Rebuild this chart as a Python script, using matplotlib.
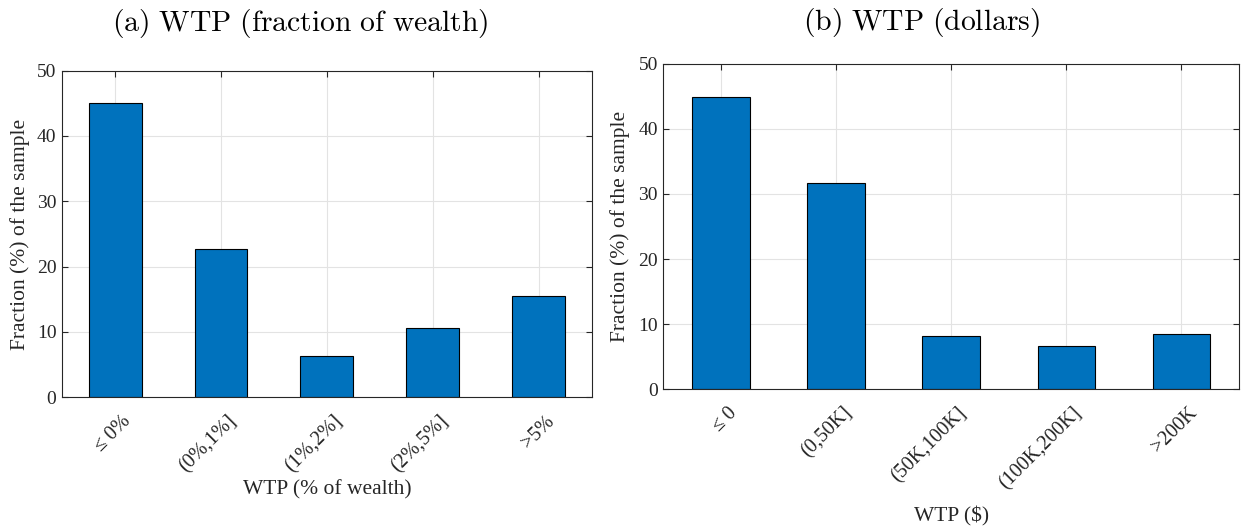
import matplotlib
matplotlib.use("Agg")
import matplotlib.pyplot as plt
import matplotlib.transforms as mtransforms
import numpy as np

# WTP as fraction of wealth
wealth_labels = ["≤ 0%", "(0%,1%]", "(1%,2%]", "(2%,5%]", ">5%"]
wealth_share = [45.0, 22.65, 6.3, 10.65, 15.45]

# WTP in dollars
dollar_labels = ["≤ 0", "(0,50K]", "(50K,100K]", "(100K,200K]", ">200K"]
dollar_share = [44.95, 31.7, 8.2, 6.65, 8.45]

plt.rcParams["font.family"] = ["Liberation Serif", "DejaVu Serif"]
plt.rcParams["mathtext.fontset"] = "cm"

BAR_COLOR = "#0072BD"
AX_COLOR = "#262626"


def style_axes(fig, ax, labels, xlabel, xlabel_y):
    x = np.arange(1, len(labels) + 1)
    ax.set_xlim(0.5, len(labels) + 0.5)
    ax.set_ylim(0, 50)
    ax.set_yticks([0, 10, 20, 30, 40, 50])
    ax.set_xticks(x)
    ax.set_xticklabels(labels, rotation=45, ha="right", va="center",
                       rotation_mode="anchor", fontsize=14.5, color=AX_COLOR)
    ax.tick_params(axis="both", direction="in", length=4, width=0.8,
                   colors=AX_COLOR, top=True, right=True)
    ax.tick_params(axis="y", labelsize=14, pad=4)
    ax.tick_params(axis="x", pad=14)
    # shift rotated labels so their ends sit right of the ticks
    shift = mtransforms.ScaledTranslation(13 / 100, -2 / 100, fig.dpi_scale_trans)
    for lab in ax.get_xticklabels():
        lab.set_transform(lab.get_transform() + shift)
    ax.grid(True, color="#e3e3e3", linewidth=0.8)
    ax.set_axisbelow(True)
    for s in ax.spines.values():
        s.set_color(AX_COLOR)
        s.set_linewidth(0.8)
    ax.set_ylabel("Fraction (%) of the sample", fontsize=15.5, color=AX_COLOR)
    ax.set_xlabel(xlabel, fontsize=15.5, color=AX_COLOR)
    ax.xaxis.set_label_coords(0.5, xlabel_y)


fig = plt.figure(figsize=(12.45, 5.31), dpi=100)

ax1 = fig.add_axes([0.0498, 0.2518, 0.4257, 0.6151])
ax1.bar(np.arange(1, 6), wealth_share, width=0.5, color=BAR_COLOR,
        edgecolor="black", linewidth=0.8)
style_axes(fig, ax1, wealth_labels, "WTP (% of wealth)", -0.252)
ax1.yaxis.set_label_coords(-0.060, 0.5)

ax2 = fig.add_axes([0.5328, 0.2674, 0.4624, 0.6121])
ax2.bar(np.arange(1, 6), dollar_share, width=0.5, color=BAR_COLOR,
        edgecolor="black", linewidth=0.8)
style_axes(fig, ax2, dollar_labels, "WTP ($)", -0.362)
ax2.yaxis.set_label_coords(-0.058, 0.5)

fig.text(300.5 / 1245, 1 - 23 / 531, r"$\mathrm{(a)\ WTP\ (fraction\ of\ wealth)}$",
         ha="center", va="center", fontsize=21.4)
fig.text(921.5 / 1245, 1 - 22.5 / 531, r"$\mathrm{(b)\ WTP\ (dollars)}$",
         ha="center", va="center", fontsize=21.4)

fig.savefig("out.png", dpi=100)
